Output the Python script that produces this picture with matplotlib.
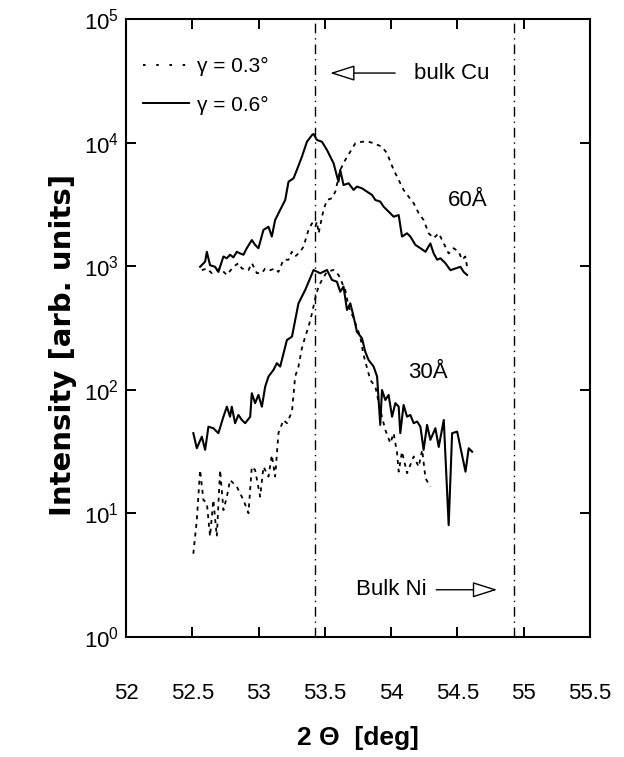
import matplotlib
matplotlib.use("Agg")
import matplotlib.pyplot as plt
from matplotlib.lines import Line2D
from matplotlib.ticker import LogLocator, NullLocator, LogFormatterSciNotation, FixedLocator, FixedFormatter

plt.rcParams['font.family'] = ['Liberation Sans', 'DejaVu Sans']
plt.rcParams['mathtext.fontset'] = 'custom'
plt.rcParams['mathtext.rm'] = 'Liberation Sans'
plt.rcParams['mathtext.it'] = 'Liberation Sans:italic'
plt.rcParams['mathtext.bf'] = 'Liberation Sans:bold'

# ---- data: 60 A, gamma = 0.6 (solid)
x60_s = [52.559, 52.597, 52.610, 52.634, 52.672, 52.697, 52.735, 52.760, 52.785, 52.810,
         52.836, 52.861, 52.886, 52.911, 52.949, 52.974, 52.999, 53.037, 53.075, 53.100,
         53.125, 53.163, 53.201, 53.226, 53.264, 53.289, 53.327, 53.365, 53.403, 53.415,
         53.440, 53.478, 53.516, 53.566, 53.591, 53.603, 53.616, 53.641, 53.679, 53.717,
         53.742, 53.780, 53.818, 53.856, 53.881, 53.918, 53.943, 53.981, 54.019, 54.057,
         54.082, 54.120, 54.145, 54.183, 54.221, 54.259, 54.296, 54.321, 54.347, 54.372,
         54.409, 54.447, 54.485, 54.523, 54.547, 54.573]
y60_s = [990, 1090, 1310, 1020, 990, 900, 1200, 1160, 1240, 1180,
         1310, 1270, 1240, 1400, 1630, 1490, 1400, 1970, 2090, 1740,
         2370, 2860, 3440, 4840, 5160, 6030, 7710, 10200, 11560, 11780,
         10540, 10200, 8750, 6820, 5380, 4840, 6030, 4550, 4700, 4150,
         4420, 4280, 4020, 3780, 3440, 3340, 3040, 2770, 2520, 2600,
         1740, 1850, 1740, 1490, 1400, 1310, 1530, 1270, 1130, 1160,
         1060, 930, 960, 990, 900, 850]

# ---- data: 60 A, gamma = 0.3 (dashed)
x60_d = [52.572, 52.610, 52.647, 52.710, 52.761, 52.810, 52.848, 52.874, 52.924, 52.949,
         52.987, 53.025, 53.050, 53.088, 53.125, 53.150, 53.188, 53.226, 53.251, 53.276,
         53.314, 53.339, 53.365, 53.377, 53.403, 53.428, 53.440, 53.453, 53.490, 53.516,
         53.554, 53.579, 53.616, 53.654, 53.692, 53.730, 53.780, 53.830, 53.868, 53.931,
         53.969, 53.994, 54.019, 54.057, 54.094, 54.132, 54.170, 54.208, 54.245, 54.283,
         54.321, 54.359, 54.397, 54.434, 54.472, 54.510, 54.535, 54.560, 54.573]
y60_d = [930, 960, 880, 960, 850, 990, 1060, 960, 930, 1060,
         880, 880, 960, 930, 960, 900, 1130, 1130, 1310, 1200,
         1310, 1440, 1790, 1970, 2230, 2090, 2300, 1850, 2860, 3440,
         3560, 4020, 6030, 7260, 8470, 9910, 10200, 10200, 9910, 9290,
         8220, 7030, 6030, 5000, 4150, 3660, 3240, 2690, 2370, 1850,
         1690, 1850, 1530, 1270, 1400, 1310, 1130, 1200, 990]

# ---- data: 30 A, gamma = 0.6 (solid)
x30_s = [52.508, 52.534, 52.572, 52.597, 52.622, 52.659, 52.697, 52.735, 52.761, 52.785,
         52.798, 52.823, 52.848, 52.874, 52.899, 52.937, 52.949, 52.974, 52.999, 53.025,
         53.050, 53.075, 53.113, 53.138, 53.163, 53.214, 53.252, 53.301, 53.352, 53.415,
         53.465, 53.516, 53.554, 53.591, 53.616, 53.641, 53.667, 53.692, 53.717, 53.742,
         53.780, 53.805, 53.830, 53.868, 53.894, 53.918, 53.931, 53.956, 53.981, 54.007,
         54.032, 54.057, 54.069, 54.094, 54.120, 54.145, 54.170, 54.196, 54.221, 54.245,
         54.271, 54.296, 54.334, 54.359, 54.397, 54.434, 54.460, 54.498, 54.561, 54.585,
         54.611]
y30_s = [44.5, 33.6, 41.7, 32.6, 50.2, 48.8, 44.5, 60.5, 72.9, 60.5,
         72.9, 53.6, 62.5, 56.9, 53.6, 60.5, 93.7, 77.9, 90.8, 72.9,
         106, 128, 145, 164, 154, 253, 269, 501, 643, 933,
         877, 933, 774, 750, 622, 684, 443, 501, 391, 295,
         261, 203, 174, 154, 128, 51.9, 99.6, 82.6, 90.8, 60.5,
         77.9, 72.9, 44.5, 75.3, 60.5, 62.5, 53.6, 55.3, 50.2, 32.6,
         51.9, 39.3, 48.8, 34.4, 56.9, 8.0, 44.5, 45.8, 21.7, 33.6,
         31.5]

# ---- data: 30 A, gamma = 0.3 (dashed)
x30_d = [52.508, 52.534, 52.559, 52.584, 52.610, 52.634, 52.659, 52.685, 52.710, 52.735,
         52.761, 52.785, 52.836, 52.886, 52.924, 52.949, 52.974, 53.012, 53.037, 53.075,
         53.100, 53.125, 53.150, 53.188, 53.214, 53.252, 53.276, 53.301, 53.327, 53.352,
         53.377, 53.403, 53.428, 53.452, 53.478, 53.516, 53.566, 53.603, 53.654, 53.679,
         53.717, 53.767, 53.792, 53.843, 53.881, 53.918, 53.956, 53.994, 54.019, 54.045,
         54.057, 54.082, 54.120, 54.170, 54.208, 54.234, 54.259, 54.296]
y30_d = [4.7, 8.8, 22.4, 12.8, 12.1, 6.5, 12.8, 6.5, 22.4, 10.6,
         13.6, 18.6, 16.4, 12.8, 10.0, 23.8, 22.4, 13.6, 23.8, 19.8,
         29.6, 19.8, 44.5, 56.9, 53.6, 66.5, 128, 154, 217, 269,
         324, 416, 551, 684, 774, 904, 933, 851, 643, 471,
         379, 269, 191, 120, 106, 68.5, 47.3, 36.9, 44.5, 30.6,
         21.7, 31.5, 21.1, 28.8, 23.8, 32.6, 19.2, 16.4]

bulk_lines = [53.422, 54.925]
x_ticks = [52, 52.5, 53, 53.5, 54, 54.5, 55, 55.5]
x_tick_labels = ['52', '52.5', '53', '53.5', '54', '54.5', '55', '55.5']
legend_labels = ['γ = 0.3°', 'γ = 0.6°']

fig = plt.figure(figsize=(6.24, 7.57), dpi=100)
ax = fig.add_axes([0.2019, 0.1589, 0.7436, 0.8156])

dash = (2.2, 2.6)
ax.plot(x60_d, y60_d, color='black', lw=1.3, dashes=dash)
ax.plot(x30_d, y30_d, color='black', lw=1.3, dashes=dash)
ax.plot(x60_s, y60_s, color='black', lw=1.5)
ax.plot(x30_s, y30_s, color='black', lw=1.5)

for xv in bulk_lines:
    ax.axvline(xv, color='black', lw=1.0, dashes=(7, 3.5, 1, 3.5))

ax.set_yscale('log')
ax.set_xlim(52, 55.5)
ax.set_ylim(1, 1e5)

ax.yaxis.set_major_locator(LogLocator(base=10, numticks=10))
ax.yaxis.set_minor_locator(NullLocator())
ax.yaxis.set_major_formatter(LogFormatterSciNotation())
ax.xaxis.set_major_locator(FixedLocator(x_ticks))
ax.xaxis.set_major_formatter(FixedFormatter(x_tick_labels))

ax.tick_params(axis='both', which='major', direction='in', length=7, width=1.4,
               top=True, right=True, labelsize=16)
ax.tick_params(axis='x', pad=33)
ax.tick_params(axis='y', pad=5)
for s in ax.spines.values():
    s.set_linewidth(1.5)

ax.set_xlabel('2 Θ  [deg]', fontsize=19, fontweight='bold', labelpad=16)
ax.set_ylabel('Intensity [arb. units]', fontsize=21, fontweight='bold',
              family=['DejaVu Sans'])
ax.yaxis.set_label_coords(-0.105, 0.472)

h03 = Line2D([], [], color='black', lw=1.4, dashes=(1.3, 5.5))
h06 = Line2D([], [], color='black', lw=1.4)
ax.legend(handles=[h03, h06], labels=legend_labels, loc='upper left', frameon=False,
          fontsize=15, handlelength=2.2, handletextpad=0.4, labelspacing=0.95,
          bbox_to_anchor=(0.005, 0.963), borderaxespad=0.3)

arrowprops = dict(arrowstyle='-|>,head_length=1.1,head_width=0.35', lw=1.0,
                  color='black', fc='white', mutation_scale=14, shrinkA=0, shrinkB=0)
ax.annotate('', xy=(53.54, 3.67e4), xytext=(54.03, 3.67e4), arrowprops=arrowprops)
ax.text(54.46, 3.67e4, 'bulk Cu', fontsize=16, ha='center', va='center')
ax.annotate('', xy=(54.80, 2.4), xytext=(54.34, 2.4), arrowprops=arrowprops)
ax.text(54.0, 2.4, 'Bulk Ni', fontsize=16, ha='center', va='center')
ax.text(54.576, 3440, '60Å', fontsize=16, ha='center', va='center')
ax.text(54.28, 137, '30Å', fontsize=16, ha='center', va='center')

fig.savefig('out.png', dpi=100)
